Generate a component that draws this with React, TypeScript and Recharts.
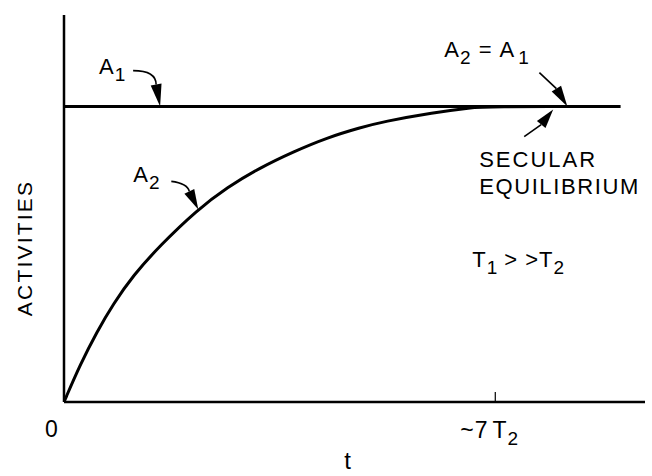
import {
  LineChart,
  Line,
  XAxis,
  YAxis,
  ReferenceDot,
} from "recharts";

// time in units of the daughter half-life T2, activity relative to A1
const a1Times = [0, 9.03];
const a1Values = [1, 1];

const a2Times = [0, 0.26, 0.54, 0.8, 1.12, 1.56, 2.16, 2.65, 3.18, 3.72, 4.27, 4.81, 5.18, 5.99, 6.64, 6.8, 9.03];
const a2Values = [0, 0.126, 0.24, 0.332, 0.428, 0.53, 0.65, 0.727, 0.793, 0.847, 0.895, 0.929, 0.949, 0.98, 0.997, 1, 1];

const xTicks = [0, 7];

// annotation anchor points (arrow tips)
const a1Tip = { t: 1.56, a: 1 };
const a2Tip = { t: 2.18, a: 0.652 };
const eqTip = { t: 8.17, a: 1 };
const secTip = { t: 7.94, a: 0.99 };

const a1Data = a1Times.map((t, i) => ({ t, v: a1Values[i] }));
const a2Data = a2Times.map((t, i) => ({ t, v: a2Values[i] }));

const FONT = "'Liberation Sans', Arial, sans-serif";
const INK = "#000";

const Sub = ({ children }: { children: string }) => (
  <tspan dy={7} fontSize={19}>
    {children}
  </tspan>
);

// arrow with a thin tail and a long filled head; offsets relative to the tip
const Arrow = ({ x, y, start, ctrl, base }: any) => {
  const bx = x + base[0];
  const by = y + base[1];
  const dx = x - bx;
  const dy = y - by;
  const len = Math.hypot(dx, dy);
  const nx = -dy / len;
  const ny = dx / len;
  const w = 5.5;
  const tail = ctrl
    ? `M${x + start[0]},${y + start[1]} Q${x + ctrl[0]},${y + ctrl[1]} ${bx},${by}`
    : `M${x + start[0]},${y + start[1]} L${bx},${by}`;
  return (
    <g>
      <path d={tail} fill="none" stroke={INK} strokeWidth={1.6} />
      <polygon
        points={`${x},${y} ${bx + nx * w},${by + ny * w} ${bx - nx * w},${by - ny * w}`}
        fill={INK}
      />
    </g>
  );
};

const textProps = {
  fontFamily: FONT,
  fontSize: 22,
  fill: INK,
  letterSpacing: 1,
};

const A1Note = ({ cx, cy }: any) => (
  <g>
    <text x={cx - 61} y={cy - 33} {...textProps}>
      A<Sub>1</Sub>
    </text>
    <Arrow x={cx} y={cy} start={[-27, -36]} ctrl={[-4, -36]} base={[-4, -22]} />
  </g>
);

const A2Note = ({ cx, cy }: any) => (
  <g>
    <text x={cx - 65} y={cy - 27} {...textProps}>
      A<Sub>2</Sub>
    </text>
    <Arrow x={cx} y={cy} start={[-27, -28]} ctrl={[-11, -26]} base={[-9, -18]} />
  </g>
);

const EqNote = ({ cx, cy }: any) => (
  <g>
    <text x={cx - 123} y={cy - 50} {...textProps}>
      A<Sub>2</Sub>
      <tspan dy={-7} dx={7}>=</tspan>
      <tspan dx={7}>A</tspan>
      <tspan dx={3}>
        <Sub>1</Sub>
      </tspan>
    </text>
    <Arrow x={cx} y={cy} start={[-28, -34]} base={[-11, -18]} />
  </g>
);

const SecNote = ({ cx, cy }: any) => (
  <g>
    <Arrow x={cx} y={cy} start={[-29, 27]} base={[-12, 15]} />
    <text x={cx - 74} y={cy + 57} {...textProps} letterSpacing={2}>
      SECULAR
    </text>
    <text x={cx - 74} y={cy + 84} {...textProps} letterSpacing={1.6}>
      EQUILIBRIUM
    </text>
    <text x={cx - 81} y={cy + 157} {...textProps}>
      T<Sub>1</Sub>
      <tspan dy={-7} dx={6}>{"> >"}</tspan>
      <tspan>T</tspan>
      <Sub>2</Sub>
    </text>
  </g>
);

const TimeTick = ({ x, y, payload }: any) => {
  const isSeven = payload.value === 7;
  return (
    <g>
      {isSeven && <line x1={x} y1={y - 10} x2={x} y2={y} stroke={INK} strokeWidth={1.2} />}
      {isSeven ? (
        <text x={x - 35} y={y + 36} {...textProps} fontSize={23}>
          ~7<tspan dx={4}>T</tspan>
          <Sub>2</Sub>
        </text>
      ) : (
        <text x={x - 12} y={y + 35} textAnchor="middle" {...textProps} fontSize={23}>
          0
        </text>
      )}
    </g>
  );
};

export default function App() {
  return (
    <div style={{ position: "absolute", left: 0, top: 0, background: "#fff" }}>
      <LineChart
        width={652}
        height={476}
        margin={{ top: 15, right: 7, bottom: 0, left: 0 }}
      >
        <XAxis
          type="number"
          dataKey="t"
          domain={[0, 9.43]}
          ticks={xTicks}
          tickLine={false}
          tickSize={0}
          tickMargin={0}
          height={74}
          axisLine={{ stroke: INK, strokeWidth: 2.5 }}
          tick={<TimeTick />}
          allowDataOverflow
          label={{
            content: () => (
              <text x={348} y={469} textAnchor="middle" {...textProps} fontSize={24}>
                t
              </text>
            ),
          }}
        />
        <YAxis
          type="number"
          domain={[0, 1.31]}
          width={64}
          tick={false}
          tickLine={false}
          axisLine={{ stroke: INK, strokeWidth: 2.5 }}
          allowDataOverflow
          label={{
            content: () => (
              <text
                x={32}
                y={248}
                textAnchor="middle"
                transform="rotate(-90 32 248)"
                {...textProps}
                fontSize={21}
                letterSpacing={2.2}
              >
                ACTIVITIES
              </text>
            ),
          }}
        />
        <Line
          data={a1Data}
          dataKey="v"
          type="linear"
          stroke={INK}
          strokeWidth={3}
          dot={false}
          activeDot={false}
          isAnimationActive={false}
        />
        <Line
          data={a2Data}
          dataKey="v"
          type="basis"
          stroke={INK}
          strokeWidth={3}
          dot={false}
          activeDot={false}
          isAnimationActive={false}
        />
        <ReferenceDot x={a1Tip.t} y={a1Tip.a} shape={<A1Note />} ifOverflow="visible" />
        <ReferenceDot x={a2Tip.t} y={a2Tip.a} shape={<A2Note />} ifOverflow="visible" />
        <ReferenceDot x={eqTip.t} y={eqTip.a} shape={<EqNote />} ifOverflow="visible" />
        <ReferenceDot x={secTip.t} y={secTip.a} shape={<SecNote />} ifOverflow="visible" />
      </LineChart>
    </div>
  );
}
